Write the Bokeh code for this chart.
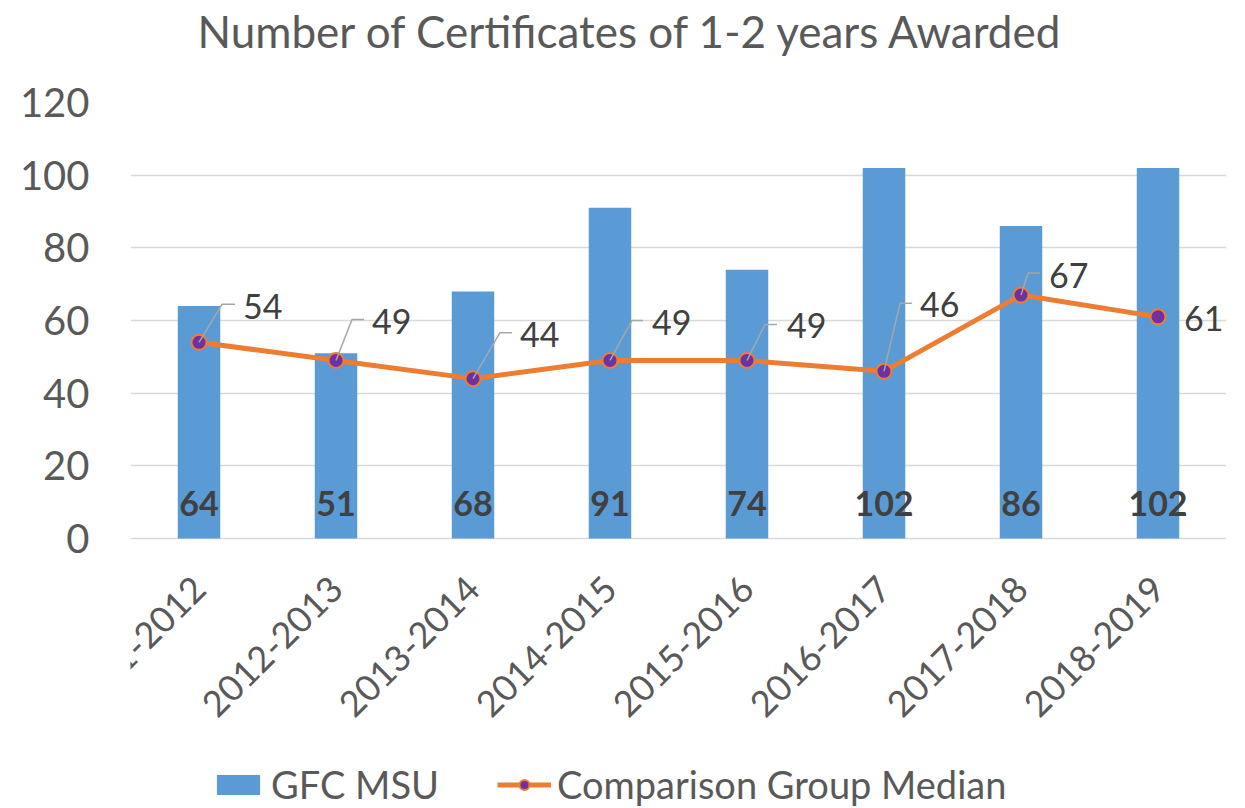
from math import pi
from bokeh.plotting import figure
from bokeh.models import (ColumnDataSource, Range1d, FixedTicker, LabelSet, Title,
                          Legend, LegendItem)
from bokeh.core.properties import value
from bokeh.embed import file_html
from bokeh.resources import INLINE

# ---------------- data ----------------
categories = ["2011-2012", "2012-2013", "2013-2014", "2014-2015",
              "2015-2016", "2016-2017", "2017-2018", "2018-2019"]
gfc_msu = [64, 51, 68, 91, 74, 102, 86, 102]
comparison_median = [54, 49, 44, 49, 49, 46, 67, 61]
y_ticks = [0, 20, 40, 60, 80, 100, 120]
title_text = "Number of Certificates of 1-2 years Awarded"
series_names = ["GFC MSU", "Comparison Group Median"]

# ---------------- style / layout ----------------
FONT = "Lato"
GREY_TXT = "#595959"
DARK_TXT = "#404040"
BLUE = "#5B9BD5"
ORANGE = "#ED7D31"
PURPLE = "#7030A0"
GRID = "#D9D9D9"

BL, BR, BT = 130, 11, 102
frame_w = 1096
plot_h = 436                 # pixel height of the 0..120 value band
below_h = 270                # room under the value band for category labels + legend
frame_h = plot_h + below_h
Y_MAX = y_ticks[-1]
px_per_x = frame_w / len(categories)
px_per_y = plot_h / Y_MAX
y_lo = -below_h / px_per_y

# label placement (screen px relative to marker; up = positive)
lab_dx = [44, 36, 47, 42, 40, 36, 28, 26]
lab_dy = [36, 39, 44, 38, 35, 67, 20, -2]
# leader lines: corner (dx, dy) and horizontal end dx; None = no leader
lead = [(23, 38, 36), (16, 41, 28), (27, 46, 39), (22, 40, 33),
        (18, 36, 30), (16, 68, 28), (7, 22, 19), None]

xs = [i + 0.5 for i in range(len(categories))]

src = ColumnDataSource(dict(
    x=xs, cat=categories, bar=gfc_msu, med=comparison_median,
    bar_txt=[str(v) for v in gfc_msu], med_txt=[str(v) for v in comparison_median],
    zero=[0] * len(categories), ldx=lab_dx, ldy=lab_dy,
))

p = figure(frame_width=frame_w, frame_height=frame_h,
           x_range=Range1d(0, len(categories)),
           y_range=Range1d(y_lo, Y_MAX), output_backend="svg",
           toolbar_location=None, min_border_left=BL, min_border_right=BR,
           min_border_top=BT, min_border_bottom=0)
p.outline_line_color = None
p.background_fill_color = "white"
p.border_fill_color = "white"

# title: spacer (next to frame) + main title (outermost)
p.add_layout(Title(text=" ", text_font_size="10px", standoff=33), "above")
p.add_layout(Title(text=title_text, text_font=FONT, text_font_size="44px",
                   text_font_style="normal", text_color=GREY_TXT,
                   align="left", offset=67, standoff=0), "above")

# y axis
p.yaxis.ticker = FixedTicker(ticks=y_ticks)
p.yaxis.axis_line_color = None
p.yaxis.major_tick_line_color = None
p.yaxis.minor_tick_line_color = None
p.yaxis.major_tick_out = 0
p.yaxis.major_label_standoff = 41
p.yaxis.major_label_text_font = FONT
p.yaxis.major_label_text_font_size = "40px"
p.yaxis.major_label_text_color = GREY_TXT

# x axis pinned at value 0, with rotated category labels
p.xaxis.fixed_location = 0
p.xaxis.ticker = FixedTicker(ticks=xs)
p.xaxis.major_label_overrides = {x: c for x, c in zip(xs, categories)}
p.xaxis.major_label_orientation = pi / 4
p.xaxis.axis_line_color = None
p.xaxis.major_tick_line_color = None
p.xaxis.minor_tick_line_color = None
p.xaxis.major_tick_out = 0
p.xaxis.major_tick_in = 0
p.xaxis.major_label_standoff = 44
p.xaxis.major_label_text_font = FONT
p.xaxis.major_label_text_font_size = "36px"
p.xaxis.major_label_text_color = GREY_TXT

p.xgrid.grid_line_color = None
p.ygrid.grid_line_color = GRID
p.ygrid.grid_line_width = 1.5

# glyphs
bars = p.vbar(x="x", top="bar", width=0.31, source=src,
              fill_color=BLUE, line_color=None)
line = p.line(x="x", y="med", source=src, line_color=ORANGE, line_width=5)
marks = p.scatter(x="x", y="med", source=src, size=15, fill_color=PURPLE,
                  line_color=ORANGE, line_width=2)

# leader lines (derived from data + pixel offsets)
lx, ly = [], []
for i, v in enumerate(comparison_median):
    if lead[i] is None:
        continue
    cdx, cdy, edx = lead[i]
    x0 = xs[i]
    lx.append([x0, x0 + cdx / px_per_x, x0 + edx / px_per_x])
    ly.append([v, v + cdy / px_per_y, v + cdy / px_per_y])
p.multi_line(xs=lx, ys=ly, line_color="#A6A6A6", line_width=1.5)

# value labels
p.add_layout(LabelSet(x="x", y="zero", text="bar_txt", source=src,
                      y_offset=35, text_align="center", text_baseline="middle",
                      text_font=value(FONT), text_font_size="34px",
                      text_font_style="bold", text_color=DARK_TXT))
p.add_layout(LabelSet(x="x", y="med", text="med_txt", source=src,
                      x_offset="ldx", y_offset="ldy", text_align="left",
                      text_baseline="middle", text_font=value(FONT),
                      text_font_size="34px", text_color=DARK_TXT))

# legend at the bottom
legend = Legend(items=[LegendItem(label=series_names[0], renderers=[bars]),
                       LegendItem(label=series_names[1], renderers=[line, marks])],
                orientation="horizontal", location=(81, 1),
                label_text_font=FONT, label_text_font_size="38px",
                label_text_color=GREY_TXT, glyph_width=54, glyph_height=25,
                label_standoff=6, spacing=58, border_line_color=None,
                background_fill_alpha=0, padding=0, margin=0)
p.add_layout(legend, "center")

open("out.html", "w").write(file_html(p, INLINE))
